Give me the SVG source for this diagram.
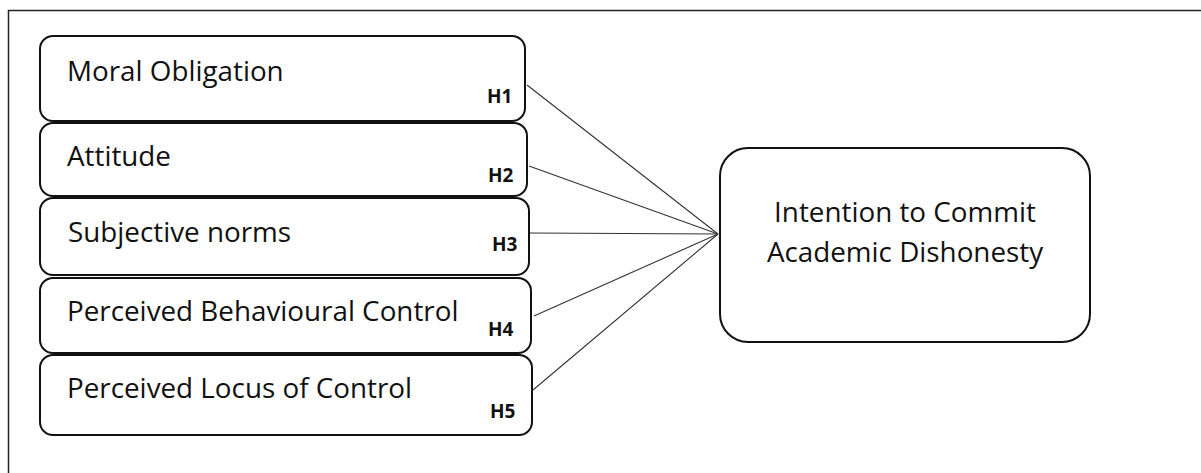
<svg xmlns="http://www.w3.org/2000/svg" width="1201" height="473" viewBox="0 0 1201 473">
  <style>
    .frame { fill: none; stroke: #222; stroke-width: 1.5; }
    .box { fill: #fff; stroke: #111; stroke-width: 2; }
    .label { font-family: "Open Sans", "Liberation Sans", sans-serif; font-size: 27.8px; fill: #111; }
    .hyp { font-family: "Open Sans", "Liberation Sans", sans-serif; font-size: 19px; font-weight: bold; fill: #111; }
    .link { stroke: #333; stroke-width: 1.1; fill: none; }
  </style>
  <rect width="1201" height="473" fill="#fff"/>
  <!-- page frame, open on the right and bottom -->
  <path class="frame" d="M1201 10.5 H8.5 V473"/>

  <g id="connectors">
    <line class="link" x1="527" y1="85" x2="718" y2="234"/>
    <line class="link" x1="529" y1="166" x2="718" y2="234"/>
    <line class="link" x1="530" y1="233" x2="718" y2="234"/>
    <line class="link" x1="534" y1="316" x2="718" y2="234"/>
    <line class="link" x1="533" y1="390" x2="718" y2="234"/>
  </g>

  <g id="moral-obligation">
    <rect class="box" x="40" y="36" width="485" height="85" rx="13"/>
    <text class="label" x="67" y="81">Moral Obligation</text>
    <text class="hyp" x="487" y="103">H1</text>
  </g>
  <g id="attitude">
    <rect class="box" x="40" y="123" width="487" height="73" rx="13"/>
    <text class="label" x="67" y="166">Attitude</text>
    <text class="hyp" x="488" y="182">H2</text>
  </g>
  <g id="subjective-norms">
    <rect class="box" x="40" y="198" width="489" height="77" rx="13"/>
    <text class="label" x="68" y="242">Subjective norms</text>
    <text class="hyp" x="492" y="251">H3</text>
  </g>
  <g id="perceived-behavioural-control">
    <rect class="box" x="40" y="278" width="491" height="75" rx="13"/>
    <text class="label" x="67" y="321">Perceived Behavioural Control</text>
    <text class="hyp" x="488" y="336">H4</text>
  </g>
  <g id="perceived-locus-of-control">
    <rect class="box" x="40" y="355" width="492" height="80" rx="13"/>
    <text class="label" x="67" y="398">Perceived Locus of Control</text>
    <text class="hyp" x="490" y="418">H5</text>
  </g>

  <g id="intention">
    <rect class="box" x="720" y="148" width="370" height="194" rx="28"/>
    <text class="label" x="905" y="222" text-anchor="middle">Intention to Commit</text>
    <text class="label" x="905" y="262" text-anchor="middle">Academic Dishonesty</text>
  </g>
</svg>
